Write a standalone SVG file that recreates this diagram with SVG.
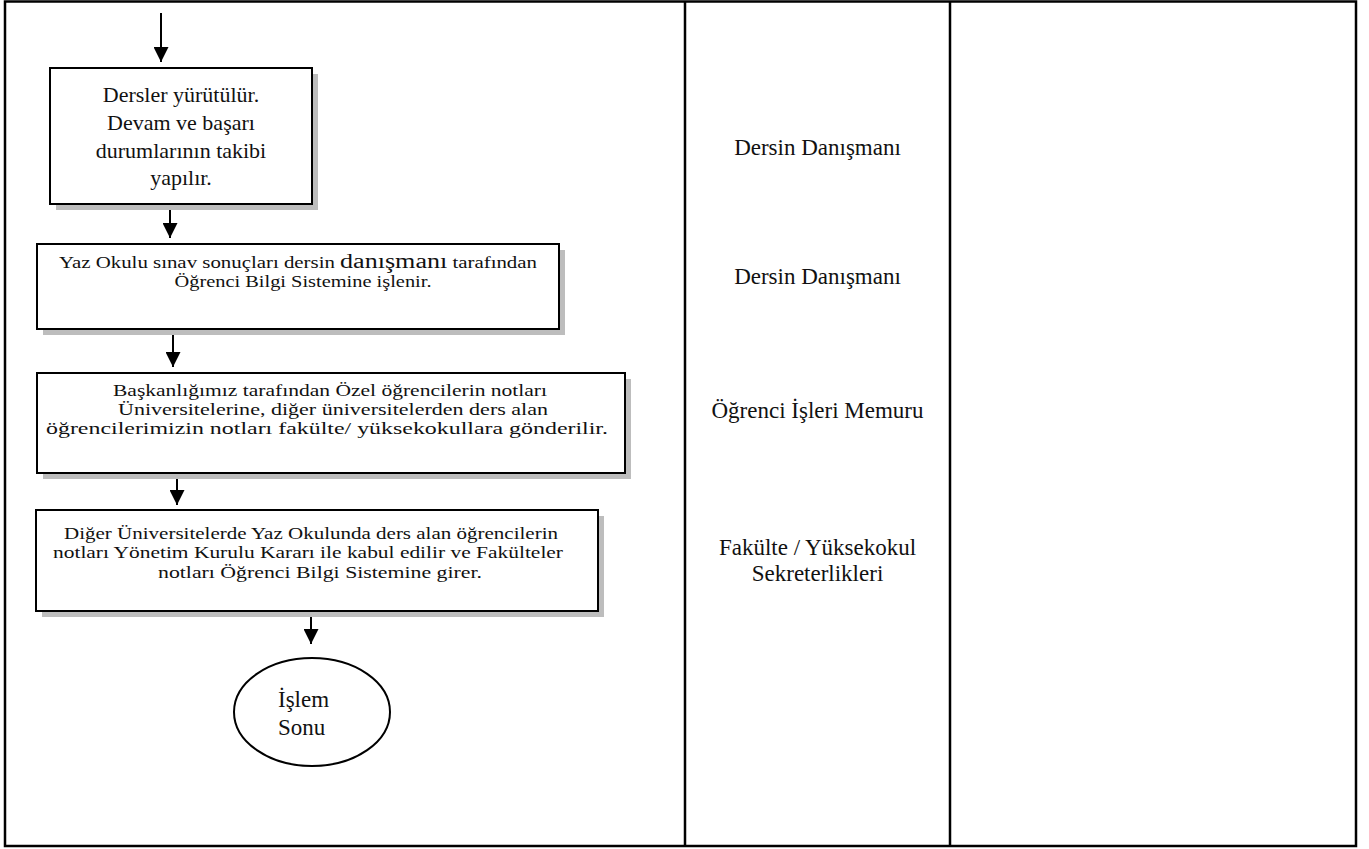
<svg xmlns="http://www.w3.org/2000/svg" width="1369" height="849" viewBox="0 0 1369 849">
<style>
text{font-family:"Liberation Serif","Times New Roman",serif;fill:#111;}
.t24{font-size:23px;}
.t22{font-size:22px;}
.t17{font-size:17px;}
.t16{font-size:16px;}
.box{fill:#fff;stroke:#000;stroke-width:2;}
.sh{fill:#bdbdbd;}
.grid{stroke:#000;stroke-width:2.5;fill:none;}
.conn{stroke:#000;stroke-width:2;fill:none;marker-end:url(#ah);}
</style>
<defs>
<marker id="ah" markerUnits="userSpaceOnUse" markerWidth="15" markerHeight="15" refX="15" refY="7.5" orient="auto">
<path d="M0,0 L15,7.5 L0,15 z" fill="#000"/>
</marker>
</defs>
<rect width="1369" height="849" fill="#fff"/>
<g id="table">
<rect class="grid" x="5" y="1.5" width="1351" height="844.5"/>
<line class="grid" x1="685" y1="1" x2="685" y2="846"/>
<line class="grid" x1="950" y1="1" x2="950" y2="846"/>
</g>
<g id="connectors">
<line class="conn" x1="161" y1="13" x2="161" y2="62"/>
<line class="conn" x1="170" y1="205" x2="170" y2="238"/>
<line class="conn" x1="173" y1="330" x2="173" y2="367"/>
<line class="conn" x1="177" y1="474" x2="177" y2="505"/>
<line class="conn" x1="311" y1="612" x2="311" y2="644"/>
</g>
<g id="n1">
<rect class="sh" x="56" y="74" width="262" height="136"/>
<rect class="box" x="50" y="68" width="262" height="136"/>
<text class="t22" text-anchor="middle" x="181" y="102">Dersler yürütülür.</text>
<text class="t22" text-anchor="middle" x="181" y="130">Devam ve başarı</text>
<text class="t22" text-anchor="middle" x="181" y="158">durumlarının takibi</text>
<text class="t22" text-anchor="middle" x="181" y="185">yapılır.</text>
</g>
<g id="n2">
<rect class="sh" x="43" y="250" width="522" height="85"/>
<rect class="box" x="37" y="244" width="522" height="85"/>
<text class="t16" text-anchor="middle" x="298" y="268" textLength="478" lengthAdjust="spacingAndGlyphs">Yaz Okulu sınav sonuçları dersin <tspan font-size="20">danışmanı</tspan> tarafından</text>
<text class="t16" text-anchor="middle" x="303" y="287" textLength="257" lengthAdjust="spacingAndGlyphs">Öğrenci Bilgi Sistemine işlenir.</text>
</g>
<g id="n3">
<rect class="sh" x="43" y="379" width="588" height="100"/>
<rect class="box" x="37" y="373" width="588" height="100"/>
<text class="t17" text-anchor="middle" x="330" y="396" textLength="434" lengthAdjust="spacingAndGlyphs">Başkanlığımız tarafından Özel öğrencilerin notları</text>
<text class="t17" text-anchor="middle" x="333" y="415" textLength="430" lengthAdjust="spacingAndGlyphs">Üniversitelerine, diğer üniversitelerden ders alan</text>
<text class="t17" text-anchor="middle" x="327" y="434" textLength="562" lengthAdjust="spacingAndGlyphs">öğrencilerimizin notları fakülte/ yüksekokullara gönderilir.</text>
</g>
<g id="n4">
<rect class="sh" x="42" y="516" width="562" height="101"/>
<rect class="box" x="36" y="510" width="562" height="101"/>
<text class="t17" text-anchor="middle" x="311" y="539" textLength="494" lengthAdjust="spacingAndGlyphs">Diğer Üniversitelerde Yaz Okulunda ders alan öğrencilerin</text>
<text class="t17" text-anchor="middle" x="308" y="558" textLength="510" lengthAdjust="spacingAndGlyphs">notları Yönetim Kurulu Kararı ile kabul edilir ve Fakülteler</text>
<text class="t17" text-anchor="middle" x="320" y="578" textLength="324" lengthAdjust="spacingAndGlyphs">notları Öğrenci Bilgi Sistemine girer.</text>
</g>
<g id="n5">
<ellipse cx="312" cy="712" rx="78" ry="54" fill="#fff" stroke="#000" stroke-width="2"/>
<text class="t24" x="278" y="707">İşlem</text>
<text class="t24" x="278" y="735">Sonu</text>
</g>
<g id="lanes">
<text class="t24" text-anchor="middle" x="817.5" y="155">Dersin Danışmanı</text>
<text class="t24" text-anchor="middle" x="817.5" y="284">Dersin Danışmanı</text>
<text class="t24" text-anchor="middle" x="817.5" y="418">Öğrenci İşleri Memuru</text>
<text class="t24" text-anchor="middle" x="817.5" y="555">Fakülte / Yüksekokul</text>
<text class="t24" text-anchor="middle" x="817.5" y="581">Sekreterlikleri</text>
</g>
</svg>
